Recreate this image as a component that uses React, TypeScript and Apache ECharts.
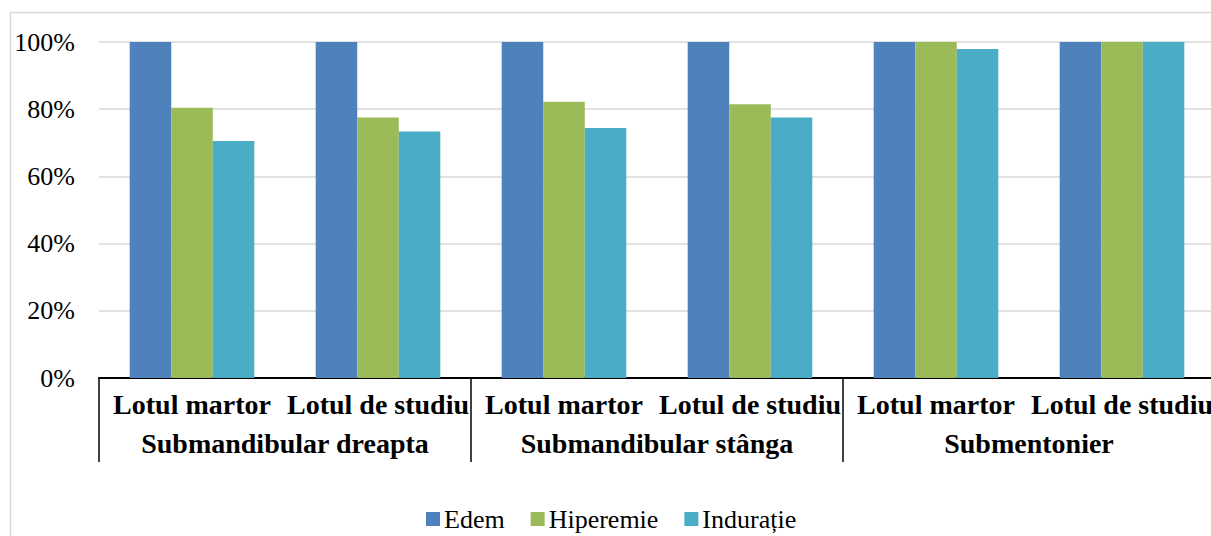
import React, { useEffect, useRef } from "react";
import * as echarts from "echarts";

const categories = ["Lotul martor", "Lotul de studiu", "Lotul martor", "Lotul de studiu", "Lotul martor", "Lotul de studiu"];
const groups = ["Submandibular dreapta", "Submandibular stânga", "Submentonier"];
const edem = [1, 1, 1, 1, 1, 1];
const hiperemie = [0.804, 0.775, 0.822, 0.815, 1, 1];
const induratie = [0.705, 0.734, 0.744, 0.775, 0.979, 1];
const seriesNames = ["Edem", "Hiperemie", "Indurație"];
const colors = ["#4F81BD", "#9BBB59", "#4BACC6"];

const FONT = "Liberation Serif";

export default function App() {
  const ref = useRef<HTMLDivElement>(null);
  useEffect(() => {
    if (!ref.current) return;
    const chart = echarts.init(ref.current, null, { renderer: "svg" });
    const values = [edem, hiperemie, induratie];
    chart.setOption({
      animation: false,
      backgroundColor: "#ffffff",
      color: colors,
      textStyle: { fontFamily: FONT },
      graphic: [
        {
          type: "rect",
          shape: { x: 10.5, y: 12.5, width: 1400, height: 800 },
          style: { fill: "none", stroke: "#d9d9d9", lineWidth: 1.5 },
          silent: true,
        },
      ],
      grid: { left: 99, top: 42, width: 1116, height: 336, containLabel: false },
      legend: {
        data: seriesNames,
        left: 421,
        top: 501,
        itemWidth: 14,
        itemHeight: 14,
        itemGap: 26,
        icon: "rect",
        textStyle: { fontFamily: FONT, fontSize: 26, color: "#000", padding: [0, 0, 0, -1] },
      },
      xAxis: [
        {
          type: "category",
          data: categories,
          position: "bottom",
          axisLine: { show: true, lineStyle: { color: "#000", width: 2 } },
          axisTick: { show: false },
          axisLabel: {
            interval: 0,
            margin: 12,
            fontFamily: FONT,
            fontWeight: "bold",
            fontSize: 28,
            color: "#000",
          },
        },
        {
          type: "category",
          data: groups,
          position: "bottom",
          axisLine: { show: false },
          axisTick: { show: true, length: 84, interval: 0, lineStyle: { color: "#000", width: 1.5 } },
          axisLabel: {
            interval: 0,
            margin: 51,
            fontFamily: FONT,
            fontWeight: "bold",
            fontSize: 28,
            color: "#000",
          },
          splitLine: { show: false },
        },
      ],
      yAxis: {
        type: "value",
        min: 0,
        max: 1,
        interval: 0.2,
        axisLine: { show: false },
        axisTick: { show: false },
        axisLabel: {
          margin: 24,
          fontFamily: FONT,
          fontSize: 26,
          color: "#000",
          formatter: (v: number) => Math.round(v * 100) + "%",
        },
        splitLine: { show: true, lineStyle: { color: "#d9d9d9", width: 1.5 } },
      },
      series: seriesNames.map((name, i) => ({
        name,
        type: "bar",
        xAxisIndex: 0,
        data: values[i],
        barGap: "0%",
        barCategoryGap: "33%",
        itemStyle: { color: colors[i] },
      })),
    });
    return () => chart.dispose();
  }, []);
  return (
    <div
      style={{ position: "absolute", left: 0, top: 0, width: 1211, height: 536, overflow: "hidden" }}
    >
      <div ref={ref} style={{ width: 1222, height: 536 }} />
    </div>
  );
}
